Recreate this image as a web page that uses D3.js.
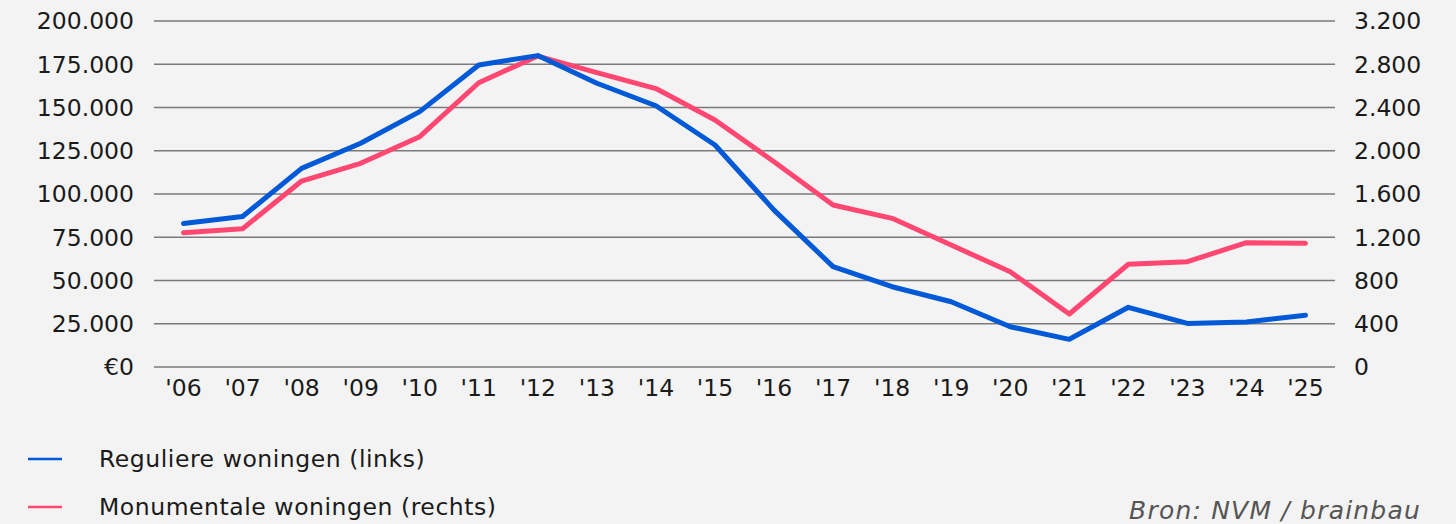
<!DOCTYPE html>
<html>
<head>
<meta charset="utf-8">
<script src="https://cdn.jsdelivr.net/npm/d3@7"></script>
<style>
  html, body { margin: 0; padding: 0; background: #f3f3f3; }
  svg { display: block; }
  text { font-family: "DejaVu Sans", "Open Sans", sans-serif; fill: #1a1a1a; }
</style>
</head>
<body>
<svg id="chart" width="1456" height="524"></svg>
<script>
// Years on the x axis
const years = ["'06","'07","'08","'09","'10","'11","'12","'13","'14","'15","'16","'17","'18","'19","'20","'21","'22","'23","'24","'25"];
// Regular homes (left axis, euro)
const regulier = [83000, 87000, 114800, 129300, 147600, 174600, 180000, 164000, 151000, 128300, 90700, 58000, 46400, 37700, 23300, 16000, 34500, 25200, 26000, 29900];
// Listed monument homes (right axis)
const monumentaal = [1242, 1279, 1720, 1884, 2130, 2629, 2876, 2722, 2575, 2284, 1899, 1498, 1375, 1128, 881, 490, 950, 974, 1150, 1144];
// Axis ticks
const leftTicks = [0, 25000, 50000, 75000, 100000, 125000, 150000, 175000, 200000];
const rightTicks = [0, 400, 800, 1200, 1600, 2000, 2400, 2800, 3200];
const seriesNames = ["Reguliere woningen (links)", "Monumentale woningen (rechts)"];
const colors = ["#0059d6", "#ff4771"];

const svg = d3.select("#chart");
const plot = { left: 154, right: 1335, top: 21, bottom: 367 };

const fmt = d3.formatLocale({ decimal: ",", thousands: ".", grouping: [3], currency: ["€", ""] });
const fmtNum = fmt.format(",d");

const x = d3.scalePoint().domain(years).range([plot.left, plot.right]).padding(0.5);
const yL = d3.scaleLinear().domain([0, 200000]).range([plot.bottom, plot.top]);
const yR = d3.scaleLinear().domain([0, 3200]).range([plot.bottom, plot.top]);

// Grid lines
svg.append("g").selectAll("line").data(leftTicks).join("line")
  .attr("x1", plot.left).attr("x2", plot.right)
  .attr("y1", d => yL(d)).attr("y2", d => yL(d))
  .attr("stroke", "#7a7a7a").attr("stroke-width", 1.5);

// Left axis labels
const axisFont = "23.5px";
svg.append("g").selectAll("text").data(leftTicks).join("text")
  .attr("x", plot.left - 20).attr("y", d => yL(d))
  .attr("dy", "0.36em").attr("text-anchor", "end")
  .style("font-size", axisFont)
  .text(d => d === 0 ? "€0" : fmtNum(d));

// Right axis labels
svg.append("g").selectAll("text").data(rightTicks).join("text")
  .attr("x", plot.right + 19).attr("y", d => yR(d))
  .attr("dy", "0.36em").attr("text-anchor", "start")
  .style("font-size", axisFont)
  .text(d => fmtNum(d));

// X axis labels
svg.append("g").selectAll("text").data(years).join("text")
  .attr("x", d => x(d)).attr("y", 396)
  .attr("text-anchor", "middle")
  .style("font-size", axisFont)
  .text(d => d);

// Lines
const lineL = d3.line().x((d, i) => x(years[i])).y(d => yL(d));
const lineR = d3.line().x((d, i) => x(years[i])).y(d => yR(d));

svg.append("path").datum(monumentaal)
  .attr("d", lineR).attr("fill", "none")
  .attr("stroke", colors[1]).attr("stroke-width", 5)
  .attr("stroke-linejoin", "round").attr("stroke-linecap", "round");

svg.append("path").datum(regulier)
  .attr("d", lineL).attr("fill", "none")
  .attr("stroke", colors[0]).attr("stroke-width", 5)
  .attr("stroke-linejoin", "round").attr("stroke-linecap", "round");

// Legend
const legend = svg.append("g").selectAll("g").data(seriesNames).join("g")
  .attr("transform", (d, i) => `translate(0, ${459 + i * 48})`);
legend.append("line")
  .attr("x1", 28).attr("x2", 62).attr("y1", 0).attr("y2", 0)
  .attr("stroke", (d, i) => colors[i]).attr("stroke-width", 2.5);
legend.append("text")
  .attr("x", 99).attr("y", 0).attr("dy", "0.36em")
  .style("font-size", axisFont).style("letter-spacing", "0.55px")
  .text(d => d);

// Source
svg.append("text")
  .attr("x", 1421).attr("y", 519)
  .attr("text-anchor", "end")
  .style("font-size", "25px").style("font-style", "italic")
  .style("letter-spacing", "1.2px")
  .style("fill", "#555")
  .text("Bron: NVM / brainbau");
</script>
</body>
</html>
